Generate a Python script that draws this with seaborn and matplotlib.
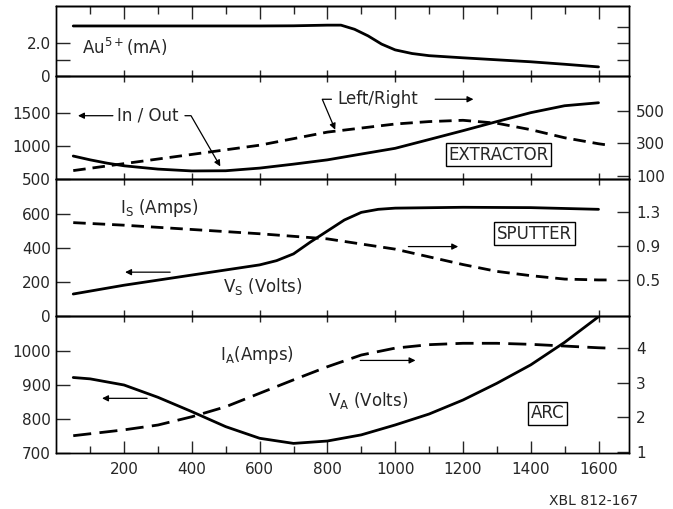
import matplotlib
matplotlib.use("Agg")
import matplotlib.pyplot as plt
from matplotlib.ticker import FixedLocator, NullFormatter
import seaborn as sns

# ---------------- data ----------------
au_x = [50, 200, 400, 600, 700, 800, 840, 880, 920, 960, 1000, 1050, 1100, 1200, 1300, 1400, 1500, 1600]
au_y = [3.05, 3.05, 3.05, 3.05, 3.06, 3.1, 3.1, 2.85, 2.45, 1.95, 1.6, 1.38, 1.25, 1.12, 1.0, 0.88, 0.73, 0.57]

inout_x = [50, 100, 150, 200, 300, 400, 500, 600, 700, 800, 900, 1000, 1100, 1200, 1300, 1400, 1500, 1600]
inout_y = [848, 790, 740, 700, 650, 622, 625, 665, 725, 790, 878, 965, 1098, 1232, 1370, 1505, 1610, 1655]

lr_x = [50, 200, 400, 600, 800, 900, 1000, 1100, 1200, 1300, 1400, 1500, 1600, 1630]
lr_y = [132, 175, 232, 289, 370, 395, 420, 435, 443, 425, 385, 335, 298, 289]

vs_x = [50, 200, 400, 600, 650, 700, 750, 800, 850, 900, 950, 1000, 1200, 1400, 1600]
vs_y = [128, 180, 240, 300, 325, 365, 435, 500, 565, 610, 628, 635, 640, 638, 628]

is_x = [50, 200, 400, 600, 800, 1000, 1100, 1200, 1300, 1400, 1500, 1600, 1630]
is_y = [1.17, 1.14, 1.09, 1.04, 0.98, 0.86, 0.77, 0.68, 0.60, 0.55, 0.51, 0.50, 0.50]

va_x = [50, 100, 200, 300, 400, 500, 600, 700, 800, 900, 1000, 1100, 1200, 1300, 1400, 1500, 1600]
va_y = [922, 918, 900, 864, 822, 778, 744, 729, 736, 754, 783, 815, 856, 905, 959, 1025, 1100]

ia_x = [50, 200, 300, 400, 500, 600, 700, 800, 900, 1000, 1100, 1200, 1300, 1400, 1500, 1600, 1630]
ia_y = [1.46, 1.63, 1.77, 2.01, 2.3, 2.69, 3.08, 3.46, 3.8, 4.0, 4.1, 4.14, 4.14, 4.11, 4.06, 4.01, 4.0]

x_ticks = [200, 400, 600, 800, 1000, 1200, 1400, 1600]
x_minor = [100, 300, 500, 700, 900, 1100, 1300, 1500]

# ---------------- style ----------------
sns.set_style("ticks")
plt.rcParams["font.family"] = ["DejaVu Sans"]
plt.rcParams["mathtext.default"] = "regular"
plt.rcParams["axes.linewidth"] = 1.0
plt.rcParams["axes.edgecolor"] = "black"
TFS = 11
AFS = 12

W, H = 673, 509
fig = plt.figure(figsize=(6.73, 5.09), dpi=100, facecolor="white")
L, R = 56.3, 629


def rect(top, bot):
    return [L / W, 1 - bot / H, (R - L) / W, (bot - top) / H]


ax1 = fig.add_axes(rect(6, 76.3))
ax2 = fig.add_axes(rect(76.3, 179))
ax3 = fig.add_axes(rect(179, 315.7))
ax4 = fig.add_axes(rect(315.7, 453.3))
axes = [ax1, ax2, ax3, ax4]
for a in axes:
    a.set_facecolor("none")
    a.set_xlim(0, 1690)

tw1 = ax1.twinx()
tw2 = ax2.twinx()
tw3 = ax3.twinx()
tw4 = ax4.twinx()
for t in [tw1, tw2, tw3, tw4]:
    t.set_facecolor("none")

LW = 2.0
sns.lineplot(x=au_x, y=au_y, ax=ax1, color="black", linewidth=LW)
sns.lineplot(x=inout_x, y=inout_y, ax=ax2, color="black", linewidth=LW)
sns.lineplot(x=lr_x, y=lr_y, ax=tw2, color="black", linewidth=LW, linestyle=(0, (4.5, 2.5)))
sns.lineplot(x=vs_x, y=vs_y, ax=ax3, color="black", linewidth=LW)
sns.lineplot(x=is_x, y=is_y, ax=tw3, color="black", linewidth=LW, linestyle=(0, (4.5, 2.5)))
sns.lineplot(x=va_x, y=va_y, ax=ax4, color="black", linewidth=LW)
sns.lineplot(x=ia_x, y=ia_y, ax=tw4, color="black", linewidth=LW, linestyle=(0, (6.5, 3)))

# ---------------- limits & ticks ----------------
ax1.set_ylim(0, 4.26); tw1.set_ylim(0, 4.26)
ax2.set_ylim(500, 2056); tw2.set_ylim(80, 715)
ax3.set_ylim(0, 807); tw3.set_ylim(0.082, 1.68)
ax4.set_ylim(700, 1103); tw4.set_ylim(0.95, 4.94)

ax1.set_yticks([0, 1, 2]); ax1.set_yticklabels(["0", "", "2.0"])
tw1.set_yticks([1, 2, 3]); tw1.set_yticklabels(["", "", ""])
ax2.set_yticks([500, 1000, 1500]); ax2.set_yticklabels(["500", "1000", "1500"])
tw2.set_yticks([100, 300, 500]); tw2.set_yticklabels(["100", "300", "500"])
ax3.set_yticks([0, 200, 400, 600]); ax3.set_yticklabels(["0", "200", "400", "600"])
tw3.set_yticks([0.5, 0.9, 1.3]); tw3.set_yticklabels(["0.5", "0.9", "1.3"])
ax4.set_yticks([700, 800, 900, 1000]); ax4.set_yticklabels(["700", "800", "900", "1000"])
tw4.set_yticks([1, 2, 3, 4]); tw4.set_yticklabels(["1", "2", "3", "4"])

for a in axes:
    a.tick_params(axis="y", direction="in", length=10, width=1, labelsize=TFS, pad=4, left=True, right=False)
for t in [tw1, tw2, tw3, tw4]:
    t.tick_params(axis="y", direction="in", length=9, width=1, labelsize=TFS, pad=5, right=True, left=False)

for a in [ax1, ax2, ax3]:
    a.set_xticks(x_ticks)
    a.set_xticklabels([])
    a.tick_params(axis="x", which="major", direction="inout", length=8, width=1, bottom=True, top=False)

ax4.set_xticks(x_ticks)
ax4.set_xticklabels([str(v) for v in x_ticks])
ax4.xaxis.set_minor_locator(FixedLocator(x_minor))
ax4.tick_params(axis="x", which="major", direction="in", length=8.5, width=1, labelsize=TFS, pad=6, top=False)
ax4.tick_params(axis="x", which="minor", direction="in", length=5, width=1, top=False)

sec = ax1.secondary_xaxis("top")
sec.set_xticks(x_ticks)
sec.set_xticklabels([])
sec.xaxis.set_minor_locator(FixedLocator(x_minor))
sec.xaxis.set_minor_formatter(NullFormatter())
sec.tick_params(axis="x", which="major", direction="in", length=9, width=1)
sec.tick_params(axis="x", which="minor", direction="in", length=6, width=1)

for a in axes + [tw1, tw2, tw3, tw4]:
    a.set_xlabel("")
    a.set_ylabel("")


def arrow(ax, x0, y0, x1, y1):
    ax.annotate("", xy=(x1, y1), xytext=(x0, y0),
                arrowprops=dict(arrowstyle="-|>", lw=0.9, color="black",
                                mutation_scale=9, shrinkA=0, shrinkB=0))


box = dict(boxstyle="square,pad=0.15", fc="white", ec="black", lw=1)

# panel 1
ax1.text(76, 1.78, r"Au$^{5+}$(mA)", fontsize=AFS, ha="left", va="center")

# panel 2
ax2.annotate("In / Out", xy=(484, 690), xytext=(271, 1459), fontsize=AFS, ha="center", va="center",
             arrowprops=dict(arrowstyle="-|>", lw=0.9, color="black", mutation_scale=9,
                             shrinkA=2, shrinkB=0,
                             connectionstyle="angle,angleA=0,angleB=120,rad=0"))
arrow(ax2, 167, 1459, 64, 1459)
tw2.annotate("Left/Right", xy=(823, 385), xytext=(949, 573), fontsize=AFS, ha="center", va="center",
             arrowprops=dict(arrowstyle="-|>", lw=0.9, color="black", mutation_scale=9,
                             shrinkA=2, shrinkB=0,
                             connectionstyle="angle,angleA=180,angleB=113,rad=0"))
arrow(tw2, 1118, 573, 1231, 573)
ax2.text(1305, 871, "EXTRACTOR", fontsize=AFS, ha="center", va="center", bbox=box)

# panel 3
ax3.text(188, 635, r"I$_{S}$ (Amps)", fontsize=AFS, ha="left", va="center")
ax3.text(492, 172, r"V$_{S}$ (Volts)", fontsize=AFS, ha="left", va="center")
arrow(ax3, 336, 257, 203, 257)
arrow(ax3, 1039, 408, 1186, 408)
ax3.text(1411, 483, "SPUTTER", fontsize=AFS, ha="center", va="center", bbox=box)

# panel 4
ax4.text(483, 988, r"I$_{A}$(Amps)", fontsize=AFS, ha="left", va="center")
ax4.text(803, 856, r"V$_{A}$ (Volts)", fontsize=AFS, ha="left", va="center")
arrow(ax4, 268, 861, 135, 861)
arrow(ax4, 897, 972, 1060, 972)
ax4.text(1450, 818, "ARC", fontsize=AFS, ha="center", va="center", bbox=box)

fig.text(638 / W, 1 - 500.7 / H, "XBL 812-167", fontsize=10, ha="right", va="center")

fig.savefig("out.png", dpi=100, facecolor="white")
